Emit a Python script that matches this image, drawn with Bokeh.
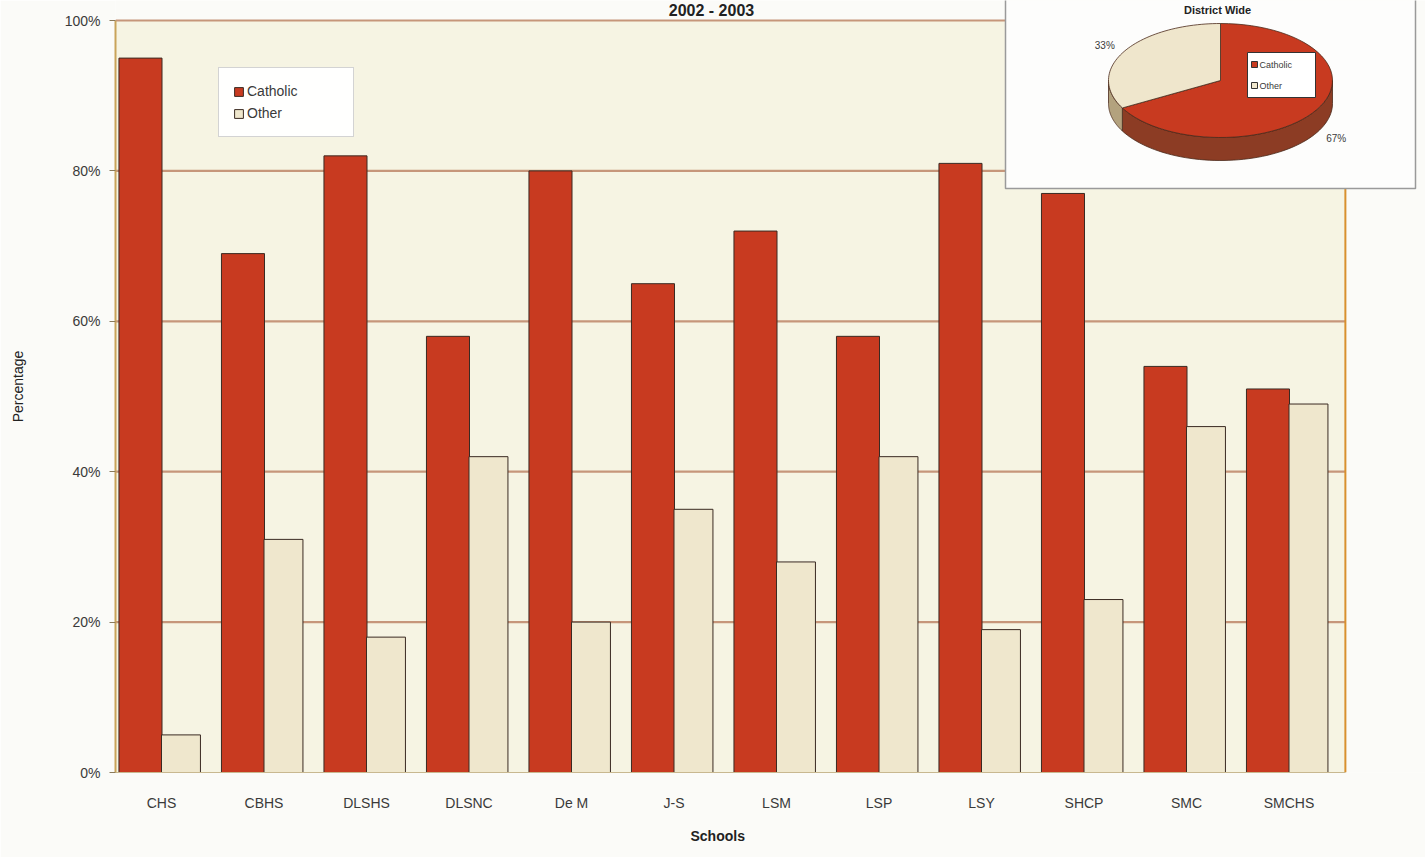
import math
from bokeh.plotting import figure
from bokeh.models import Range1d, FixedTicker, PrintfTickFormatter, Legend, LegendItem, ColumnDataSource, Title
from bokeh.transform import dodge
from bokeh.core.properties import value
from bokeh.embed import file_html
from bokeh.resources import INLINE

# ---------------- data ----------------
schools = ["CHS", "CBHS", "DLSHS", "DLSNC", "De M", "J-S", "LSM", "LSP", "LSY", "SHCP", "SMC", "SMCHS"]
catholic = [95, 69, 82, 58, 80, 65, 72, 58, 81, 77, 54, 51]
other = [5, 31, 18, 42, 20, 35, 28, 42, 19, 23, 46, 49]
y_ticks = [0, 20, 40, 60, 80, 100]
pie_labels = ["Catholic", "Other"]
pie_values = [67, 33]
title_text = "2002 - 2003"
pie_title = "District Wide"
x_title = "Schools"
y_title = "Percentage"

# ---------------- layout (reference pixel frame) ----------------
W, H = 1425, 857
FL, FR, FT, FB = 115, 1425, 0, 772      # frame edges in px
X0, DX = 161, 102.5                      # px of first group centre, px per group
PPCT = 7.52                              # px per percent
x_start = (FL - X0) / DX
x_end = (FR - X0) / DX
y_end = (FB - FT) / PPCT
plot_right = len(schools) - 1 + 0.55

FONT = "Liberation Sans"
TXT = "#3a3a3a"
RED = "#c83a20"
CREAM = "#efe7cd"
EDGE = "#3a2a22"

p = figure(width=W, height=H, x_range=Range1d(x_start, x_end), y_range=Range1d(0, y_end),
           output_backend="svg", toolbar_location=None,
           min_border_left=FL, min_border_right=0, min_border_top=0, min_border_bottom=H - FB)
p.extra_x_ranges["px"] = Range1d(FL, FR)
p.extra_y_ranges["px"] = Range1d(FB, FT)
p.background_fill_color = "#fbfbf8"
p.border_fill_color = "#fbfbf8"
p.outline_line_color = None
p.xgrid.visible = False
p.ygrid.visible = False

# plot-area background
p.quad(left=[x_start], right=[plot_right], bottom=[0], top=[max(y_ticks)],
       fill_color="#f6f4e3", line_color=None)
# grid lines
gt = [t for t in y_ticks if t > 0]
p.segment(x0=[x_start] * len(gt), x1=[plot_right] * len(gt), y0=gt, y1=gt,
          line_color="#c6967a", line_width=2.2)
# right border of plot area
p.segment(x0=[plot_right], x1=[plot_right], y0=[0], y1=[max(y_ticks)], line_color="#d8902e", line_width=2)

src = ColumnDataSource(dict(x=list(range(len(schools))), catholic=catholic, other=other))
r1 = p.vbar(x=dodge("x", -0.205), top="catholic", width=0.42, source=src,
            fill_color=RED, line_color=EDGE, line_width=1)
r2 = p.vbar(x=dodge("x", 0.19), top="other", width=0.38, source=src,
            fill_color=CREAM, line_color=EDGE, line_width=1)

# axes
p.yaxis.ticker = FixedTicker(ticks=y_ticks)
p.yaxis.formatter = PrintfTickFormatter(format="%d%%")
p.yaxis.bounds = (0, 100)
p.yaxis.axis_line_color = "#c9a45a"
p.yaxis.axis_line_width = 2
p.yaxis.major_tick_line_color = "#8a7a5a"
p.yaxis.major_tick_out = 6
p.yaxis.major_tick_in = 0
p.yaxis.minor_tick_line_color = None
p.yaxis.major_label_standoff = 9
p.yaxis.axis_label = y_title
p.yaxis.axis_label_standoff = 36
p.yaxis.axis_label_text_font_style = "normal"
p.yaxis.axis_label_text_font = FONT
p.yaxis.axis_label_text_font_size = "14px"
p.yaxis.axis_label_text_color = "#222222"

p.xaxis.ticker = FixedTicker(ticks=list(range(len(schools))))
p.xaxis.major_label_overrides = {i: s for i, s in enumerate(schools)}
p.xaxis.bounds = (x_start, plot_right)
p.xaxis.axis_line_color = "#c8b890"
p.xaxis.major_tick_line_color = None
p.xaxis.major_tick_out = 0
p.xaxis.major_tick_in = 0
p.xaxis.minor_tick_line_color = None
p.xaxis.major_label_standoff = 22

for ax in (p.xaxis, p.yaxis):
    ax.major_label_text_font = FONT
    ax.major_label_text_font_size = "14px"
    ax.major_label_text_color = TXT

# x-axis title, placed left of the frame centre as in the reference
xt = Title(text=x_title, align="left", offset=575, standoff=25,
           text_font=FONT, text_font_size="14px", text_font_style="bold", text_color="#222222")
p.add_layout(xt, "below")

# main legend
leg = Legend(items=[LegendItem(label="Catholic", renderers=[r1]), LegendItem(label="Other", renderers=[r2])],
             location=(103, 635), orientation="vertical")
leg.label_text_font = FONT
leg.label_text_font_size = "14px"
leg.label_text_color = TXT
leg.glyph_width = 11
leg.glyph_height = 11
leg.label_standoff = 3
leg.label_width = 92
leg.label_height = 18
leg.spacing = 4
leg.padding = 14
leg.margin = 0
leg.background_fill_color = "white"
leg.border_line_color = "#a8a8a8"
p.add_layout(leg)

# chart title
p.text(x=[711], y=[1], text=[title_text], x_range_name="px", y_range_name="px",
       text_font=value(FONT), text_font_size="16px", text_font_style="bold",
       text_align="center", text_baseline="top", text_color="#222222")

# ---------------- inset pie ----------------
p.quad(left=[1005], right=[1415], top=[-2], bottom=[188], x_range_name="px", y_range_name="px",
       fill_color="#fdfdfc", line_color="#9a9a9a", line_width=1.5)
cx, cy, rx, ry, depth = 1220, 80, 112, 57, 23
total = sum(pie_values)
pie_top = ["#c83a20", "#efe6cc"]
pie_side = ["#8c3c24", "#b3a27e"]


def ept(t):
    return cx + rx * math.cos(math.radians(t)), cy - ry * math.sin(math.radians(t))


def arc(a, b, n=60):
    return [a + (b - a) * i / n for i in range(n + 1)]


side_xs, side_ys, side_c, top_xs, top_ys, top_c = [], [], [], [], [], []
lab_x, lab_y, lab_t = [], [], []
a0 = 90.0
for v, ct, cs in zip(pie_values, pie_top, pie_side):
    a1 = a0 - 360.0 * v / total
    for k in (-360, 0, 360):
        lo, hi = max(a1, -180 + k), min(a0, 0 + k)
        if lo < hi:
            pts = [ept(t) for t in arc(lo, hi)]
            xs = [q[0] for q in pts] + [q[0] for q in reversed(pts)]
            ys = [q[1] for q in pts] + [q[1] + depth for q in reversed(pts)]
            side_xs.append(xs); side_ys.append(ys); side_c.append(cs)
    pts = [ept(t) for t in arc(a0, a1)]
    top_xs.append([cx] + [q[0] for q in pts]); top_ys.append([cy] + [q[1] for q in pts]); top_c.append(ct)
    mid = (a0 + a1) / 2
    lx = cx + 1.2 * rx * math.cos(math.radians(mid))
    ly = cy - 1.2 * ry * math.sin(math.radians(mid))
    if math.sin(math.radians(mid)) < 0:
        ly += depth
    lab_x.append(lx); lab_y.append(ly); lab_t.append(f"{v}%")
    a0 = a1

p.patches(xs=side_xs, ys=side_ys, fill_color=side_c, line_color="#4a2a1a", line_width=0.8,
          x_range_name="px", y_range_name="px")
p.patches(xs=top_xs, ys=top_ys, fill_color=top_c, line_color="#4a2a1a", line_width=0.8,
          x_range_name="px", y_range_name="px")
p.text(x=lab_x, y=lab_y, text=lab_t, x_range_name="px", y_range_name="px",
       text_font=value(FONT), text_font_size="10px", text_align="center", text_baseline="middle",
       text_color=TXT)
p.text(x=[1217], y=[3], text=[pie_title], x_range_name="px", y_range_name="px",
       text_font=value(FONT), text_font_size="11px", text_font_style="bold",
       text_align="center", text_baseline="top", text_color="#222222")
# pie legend
p.quad(left=[1247], right=[1315], top=[52], bottom=[97], x_range_name="px", y_range_name="px",
       fill_color="white", line_color="#333333", line_width=1)
ly = [64, 85]
p.rect(x=[1254] * 2, y=ly, width=6, height=6, fill_color=pie_top, line_color="#333333",
       x_range_name="px", y_range_name="px")
p.text(x=[1259] * 2, y=ly, text=pie_labels, x_range_name="px", y_range_name="px",
       text_font=value(FONT), text_font_size="9px", text_baseline="middle", text_color=TXT)

open("out.html", "w").write(file_html(p, INLINE))
